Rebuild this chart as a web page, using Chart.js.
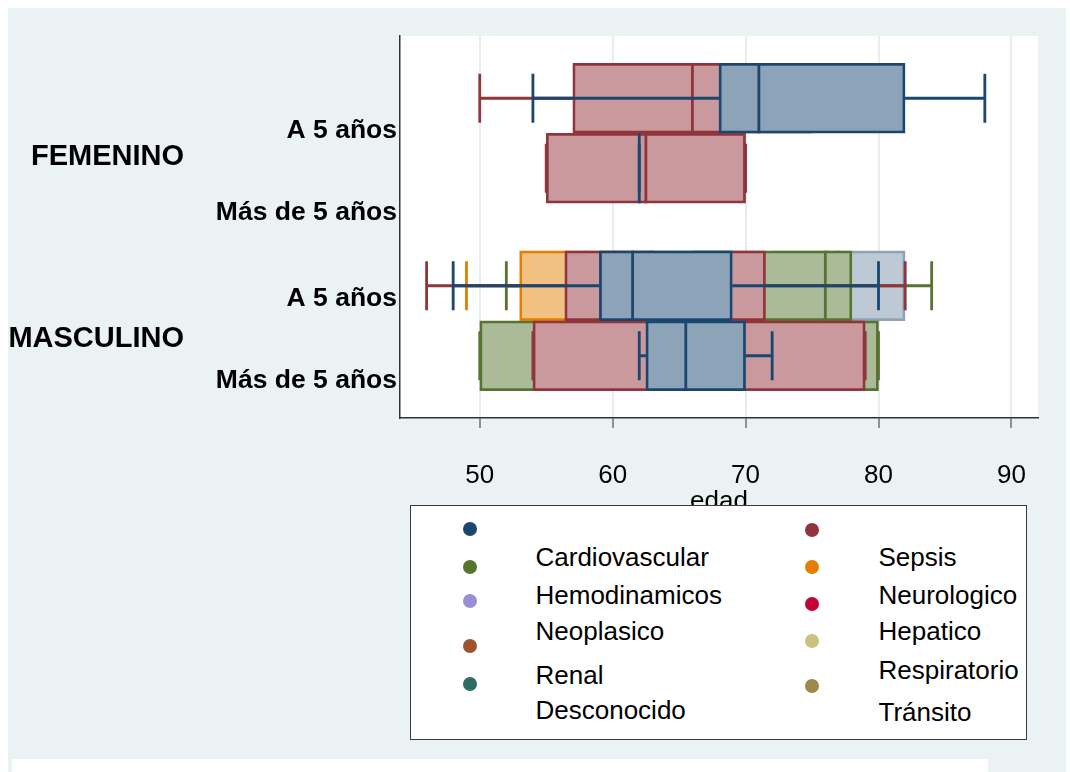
<!DOCTYPE html>
<html>
<head>
<meta charset="utf-8">
<script src="https://cdn.jsdelivr.net/npm/chart.js@4.4.1/dist/chart.umd.min.js"></script>
<style>
  html, body { margin: 0; padding: 0; background: #fff; }
  body { width: 1070px; height: 772px; position: relative; overflow: hidden; font-family: "Liberation Sans", Arial, sans-serif; }
  #bg { position: absolute; left: 8px; top: 8px; width: 1058px; height: 764px; background: #eaf2f3; }
  #strip { position: absolute; left: 12px; top: 759px; width: 976px; height: 13px; background: #fff; }
  #wrap { position: absolute; left: 0; top: 0; width: 1070px; height: 772px; }
  #legend { position: absolute; left: 410px; top: 505px; width: 615px; height: 233px; background: #fff; border: 1.5px solid #3a3a3a; }
  .dot { position: absolute; width: 14px; height: 14px; border-radius: 50%; }
  .lab { position: absolute; font-size: 26px; line-height: 26px; color: #000; white-space: nowrap; }
</style>
</head>
<body>
<div id="bg"></div>
<div id="strip"></div>
<div id="wrap"><canvas id="chart"></canvas></div>
<div id="legend"></div>
<script>
const rowLabels = ['A 5 años', 'Más de 5 años', 'A 5 años', 'Más de 5 años'];
const groupLabels = ['FEMENINO', 'MASCULINO'];
const xTicks = [50, 60, 70, 80, 90];

// edad: [min, q1, mediana, q3, max] por fila, null = sin caja en esa fila
const navyBox   = [[54, 68, 71, 82, 88], [62, 62, 62, 62, 62], [48, 59, 61.5, 69, 80], [62, 62.5, 65.5, 70, 72]];
const maroonBox = [[50, 57, 66, 75, 80], [55, 55, 62.5, 70, 70], [46, 56.4, 63, 71.5, 82], [54, 54, 67, 79, 79]];
const greenBox  = [null, null, [52, 66, 76, 78, 84], [50, 50, 62, 80, 80]];
const orangeBox = [null, null, [49, 53, 58, 63, 68], null];
const paleBox   = [null, null, [72, 72, 77, 82, 82], null];

const legendLeftColors  = ['#1a476f', '#55752f', '#9a8fd6', '#a0522d', '#2d6e64'];
const legendRightColors = ['#90353b', '#e37e00', '#c10534', '#cac27e', '#9c8847'];
const legendLeftText  = ['Cardiovascular', 'Hemodinamicos', 'Neoplasico', 'Renal', 'Desconocido'];
const legendRightText = ['Sepsis', 'Neurologico', 'Hepatico', 'Respiratorio', 'Tránsito'];

// layout (y axis in box heights)
const rowPos = [0.89, 1.89, 3.57, 4.57];
const labelPos = [1.36, 2.52, 3.76, 4.93];
const groupPos = [1.73, 4.33];
const yMax = 5.46;
const capHalf = 0.35;

Chart.defaults.font.family = '"Liberation Sans", Arial, sans-serif';

// bottom layer first
const series = [
  { stats: paleBox,   line: '#8fa3b7', fill: '#bdc9d5' },
  { stats: greenBox,  line: '#55752f', fill: '#abba98' },
  { stats: orangeBox, line: '#e37e00', fill: '#f1c183' },
  { stats: maroonBox, line: '#90353b', fill: '#c9999d' },
  { stats: navyBox,   line: '#1a476f', fill: '#8da3b8' },
];

const gap = () => ({ x: null, y: null });
const boxHeight = ctx => {
  const s = ctx.chart.scales.y;
  const h = s ? Math.abs(s.getPixelForValue(1) - s.getPixelForValue(0)) : 0;
  return h || 70;
};

const datasets = [];
series.forEach((s, layer) => {
  const rows = s.stats.map((v, i) => v ? { v, y: rowPos[i] } : null).filter(Boolean);
  const base = (series.length - 1 - layer) * 4;
  const line = (data, k) => ({
    type: 'line', data, borderColor: s.line, borderWidth: 2.8, pointRadius: 0,
    fill: false, spanGaps: false, order: base + k,
  });
  datasets.push({
    type: 'bar',
    data: rows.map(r => ({ x: [r.v[1], r.v[3]], y: r.y })),
    backgroundColor: s.fill, borderColor: s.line, borderWidth: 2.8,
    borderSkipped: false, grouped: false, barThickness: boxHeight, order: base + 3,
  });
  datasets.push(line(rows.flatMap(r => [
    { x: r.v[0], y: r.y }, { x: r.v[1], y: r.y }, gap(),
    { x: r.v[3], y: r.y }, { x: r.v[4], y: r.y }, gap(),
  ]), 2));
  datasets.push(line(rows.flatMap(r => [
    { x: r.v[0], y: r.y - capHalf }, { x: r.v[0], y: r.y + capHalf }, gap(),
    { x: r.v[4], y: r.y - capHalf }, { x: r.v[4], y: r.y + capHalf }, gap(),
  ]), 1));
  datasets.push(line(rows.flatMap(r => [
    { x: r.v[2], y: r.y - 0.5 }, { x: r.v[2], y: r.y + 0.5 }, gap(),
  ]), 0));
});

const plotBg = {
  id: 'plotBg',
  beforeDraw(chart) {
    const { ctx, chartArea: a } = chart;
    ctx.save();
    ctx.fillStyle = '#fff';
    ctx.fillRect(a.left, a.top, a.right - a.left, a.bottom - a.top);
    ctx.restore();
  }
};

new Chart(document.getElementById('chart'), {
  type: 'bar',
  data: { datasets },
  plugins: [plotBg],
  options: {
    indexAxis: 'y',
    responsive: true,
    maintainAspectRatio: false,
    animation: false,
    layout: { padding: { left: 0, top: 36, right: 32, bottom: 260 } },
    plugins: { legend: { display: false }, tooltip: { enabled: false } },
    scales: {
      x: {
        type: 'linear', min: 44, max: 92, offset: false,
        afterBuildTicks: s => { s.ticks = xTicks.map(value => ({ value })); },
        afterFit: s => { s.height = 94; },
        grid: { color: '#e6eef0', lineWidth: 2, tickColor: '#333', tickLength: 10, tickWidth: 1 },
        border: { color: '#333', width: 1.5 },
        ticks: { color: '#000', font: { size: 26 }, padding: 32, maxRotation: 0 },
        title: { display: true, text: 'edad', color: '#000', font: { size: 26, lineHeight: 0.8 }, padding: 0 },
      },
      y: {
        type: 'linear', min: 0, max: yMax, reverse: true, offset: false,
        afterBuildTicks: s => { s.ticks = labelPos.map(value => ({ value })); },
        afterFit: s => { s.width = 200; },
        grid: { display: true, drawOnChartArea: false, drawTicks: false },
        border: { color: '#333', width: 1.5 },
        ticks: { color: '#000', font: { size: 26.5, weight: 'bold' }, padding: 3, autoSkip: false,
                 callback: (v, i) => rowLabels[i] },
      },
      yGroup: {
        axis: 'y', type: 'linear', position: 'left', weight: 1,
        min: 0, max: yMax, reverse: true, offset: false,
        afterBuildTicks: s => { s.ticks = groupPos.map(value => ({ value })); },
        afterFit: s => { s.width = 200; },
        grid: { display: false, drawTicks: false },
        border: { display: false },
        ticks: { color: '#000', font: { size: 29, weight: 'bold' }, padding: 16, autoSkip: false,
                 callback: (v, i) => groupLabels[i] },
      },
    },
  },
});

// legend (Stata style: markers and labels sit on offset rows)
const legend = document.getElementById('legend');
const lx = 411.5, ly = 506.5;
const dotY = { left: [529, 567, 601, 646, 684], right: [530, 567, 604, 641, 686] };
const textBase = { left: [566.7, 604, 640.7, 684.3, 719], right: [566.7, 604, 640.7, 679, 721.7] };
const cols = [
  { key: 'left', dotX: 470, textX: 536, colors: legendLeftColors, text: legendLeftText },
  { key: 'right', dotX: 812, textX: 879, colors: legendRightColors, text: legendRightText },
];
cols.forEach(c => {
  c.colors.forEach((col, i) => {
    const d = document.createElement('div');
    d.className = 'dot';
    d.style.background = col;
    d.style.left = (c.dotX - 7 - lx) + 'px';
    d.style.top = (dotY[c.key][i] - 7 - ly) + 'px';
    legend.appendChild(d);
  });
  c.text.forEach((t, i) => {
    const s = document.createElement('div');
    s.className = 'lab';
    s.textContent = t;
    s.style.left = (c.textX - lx) + 'px';
    s.style.top = (textBase[c.key][i] - 22 - ly) + 'px';
    legend.appendChild(s);
  });
});
</script>
</body>
</html>
